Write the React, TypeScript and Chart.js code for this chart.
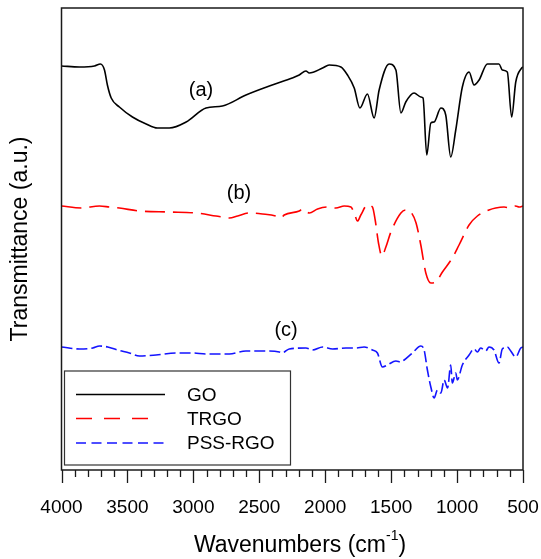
import React, { useEffect, useRef } from 'react';
import { Chart, registerables } from 'chart.js';

Chart.register(...registerables);

const FONT = '"Liberation Sans", Arial, sans-serif';

// GO spectrum (a)
const goWavenumbers = [4000, 3864, 3750, 3705, 3674, 3652, 3623, 3561, 3462, 3358, 3273, 3182, 3055, 2904, 2780, 2601, 2402, 2250, 2197, 2146, 2121, 2020, 1970, 1881, 1831, 1780, 1737, 1680, 1629, 1591, 1515, 1464, 1426, 1389, 1326, 1275, 1258, 1230, 1199, 1174, 1123, 1086, 1048, 1010, 960, 909, 871, 833, 770, 682, 657, 619, 586, 555, 510, 500];
const goValues = [402, 401, 402, 404, 398, 383, 370, 361, 351, 344, 340, 340, 346, 360, 362, 373, 383, 390, 393, 397, 395, 400, 403, 401, 393, 380, 360, 374, 350, 378, 404, 398, 355, 366, 375, 371, 370, 313, 345, 346, 360, 353, 311, 338, 381, 396, 383, 388, 404, 404, 398, 396, 351, 386, 400, 401];

// TRGO spectrum (b)
const trgoWavenumbers = [4000, 3851, 3712, 3636, 3561, 3409, 3182, 2980, 2828, 2727, 2664, 2576, 2475, 2373, 2336, 2311, 2197, 2172, 2121, 2058, 1983, 1919, 1856, 1805, 1780, 1755, 1730, 1680, 1642, 1621, 1596, 1570, 1540, 1502, 1426, 1389, 1351, 1311, 1275, 1237, 1199, 1161, 1111, 1036, 985, 909, 846, 758, 707, 644, 593, 555, 530, 500];
const trgoValues = [262, 260, 262, 261, 260, 257, 256, 255, 252, 250, 252, 255, 254, 252, 250, 253, 257, 259, 255, 259, 261, 260, 262, 261, 255, 247, 253, 263, 261, 248, 225, 212, 221, 236, 255, 258, 256, 245, 223, 195, 185, 186, 196, 210, 223, 243, 252, 258, 260, 261, 260, 262, 261, 262];

// PSS-RGO spectrum (c)
const pssWavenumbers = [4000, 3864, 3763, 3712, 3649, 3573, 3485, 3409, 3283, 3131, 3005, 2904, 2727, 2601, 2424, 2348, 2328, 2273, 2146, 2096, 2020, 1944, 1843, 1767, 1705, 1642, 1604, 1566, 1528, 1464, 1426, 1401, 1339, 1275, 1250, 1225, 1199, 1174, 1149, 1123, 1098, 1072, 1048, 1036, 1010, 998, 960, 909, 871, 846, 821, 783, 758, 720, 682, 657, 619, 593, 555, 517, 500];
const pssValues = [121, 119, 120, 122, 121, 118, 115, 112, 113, 115, 115, 114, 114, 117, 117, 116, 115, 119, 120, 118, 121, 119, 120, 120, 121, 118, 115, 101, 103, 107, 106, 108, 115, 122, 118, 98, 81, 70, 78, 75, 88, 80, 103, 85, 95, 88, 103, 113, 119, 116, 120, 117, 121, 118, 105, 119, 121, 117, 111, 120, 121];

const seriesLabels = ['GO', 'TRGO', 'PSS-RGO'];
const seriesColors = ['#000000', '#ff0000', '#1414ff'];
const seriesDashes: number[][] = [[], [20, 8], [11, 4]];
const legendDashes: number[][] = [[], [16, 12], [10, 5.5]];

const peakLabels = ['(a)', '(b)', '(c)'];
const peakLabelX = [2942, 2654, 2297];
const peakLabelY = [378, 275, 138];

const xMin = 500;
const xMax = 4000;
const xMajorStep = 500;
const xMinorStep = 100;
const yMin = -2;
const yMax = 460;

const xTitle = 'Wavenumbers (cm';
const xTitleSup = '-1';
const yTitle = 'Transmittance (a.u.)';

const toPoints = (xs: number[], ys: number[]) => xs.map((x, i) => ({ x, y: ys[i] }));

const decorPlugin = {
  id: 'decor',
  afterDraw(chart: any) {
    const { ctx, chartArea } = chart;
    const { left, right, top, bottom } = chartArea;
    const xs = chart.scales.x;
    const ys = chart.scales.y;
    ctx.save();

    // frame
    ctx.strokeStyle = '#1a1a1a';
    ctx.lineWidth = 1.5;
    ctx.setLineDash([]);
    ctx.strokeRect(left, top, right - left, bottom - top);

    // outward ticks on bottom axis
    ctx.lineWidth = 1.3;
    for (let v = xMin; v <= xMax; v += xMinorStep) {
      const px = Math.round(xs.getPixelForValue(v)) + 0.5;
      const len = v % xMajorStep === 0 ? 13 : 7;
      ctx.beginPath();
      ctx.moveTo(px, bottom);
      ctx.lineTo(px, bottom + len);
      ctx.stroke();
    }

    // peak labels
    ctx.fillStyle = '#000';
    ctx.font = `20px ${FONT}`;
    ctx.textAlign = 'center';
    ctx.textBaseline = 'middle';
    peakLabels.forEach((t, i) => {
      ctx.fillText(t, xs.getPixelForValue(peakLabelX[i]), ys.getPixelForValue(peakLabelY[i]));
    });

    // legend box
    const bx = left + 3;
    const by = 371;
    const bw = 226;
    const bh = 94;
    ctx.strokeStyle = '#333';
    ctx.lineWidth = 1.2;
    ctx.strokeRect(bx, by, bw, bh);
    const rowY = [394.5, 418.5, 443];
    const lineEnds = [165, 157, 165];
    ctx.font = `19px ${FONT}`;
    ctx.textAlign = 'left';
    seriesLabels.forEach((lab, i) => {
      ctx.strokeStyle = seriesColors[i];
      ctx.lineWidth = 1.6;
      ctx.setLineDash(legendDashes[i]);
      ctx.beginPath();
      ctx.moveTo(76, rowY[i]);
      ctx.lineTo(lineEnds[i], rowY[i]);
      ctx.stroke();
      ctx.setLineDash([]);
      ctx.fillStyle = '#000';
      ctx.fillText(lab, 187, rowY[i] + 1);
    });

    // x axis title with superscript
    ctx.font = `23px ${FONT}`;
    const w1 = ctx.measureText(xTitle).width;
    ctx.font = `14px ${FONT}`;
    const w2 = ctx.measureText(xTitleSup).width;
    ctx.font = `23px ${FONT}`;
    const w3 = ctx.measureText(')').width;
    const total = w1 + w2 + w3;
    const x0 = 300 - total / 2;
    const ty = 546;
    ctx.textAlign = 'left';
    ctx.textBaseline = 'middle';
    ctx.fillText(xTitle, x0, ty);
    ctx.font = `14px ${FONT}`;
    ctx.fillText(xTitleSup, x0 + w1, ty - 10);
    ctx.font = `23px ${FONT}`;
    ctx.fillText(')', x0 + w1 + w2, ty);

    ctx.restore();
  },
};

export default function App() {
  const canvasRef = useRef<HTMLCanvasElement | null>(null);

  useEffect(() => {
    if (!canvasRef.current) return;
    const chart = new Chart(canvasRef.current, {
      type: 'line',
      data: {
        datasets: [
          { label: seriesLabels[0], data: toPoints(goWavenumbers, goValues) },
          { label: seriesLabels[1], data: toPoints(trgoWavenumbers, trgoValues) },
          { label: seriesLabels[2], data: toPoints(pssWavenumbers, pssValues) },
        ].map((d, i) => ({
          ...d,
          borderColor: seriesColors[i],
          backgroundColor: seriesColors[i],
          borderDash: seriesDashes[i],
          borderWidth: 1.6,
          pointRadius: 0,
          fill: false,
          cubicInterpolationMode: 'monotone' as const,
        })),
      },
      options: {
        animation: false,
        responsive: false,
        maintainAspectRatio: false,
        layout: { padding: { top: 8, right: 18, left: 0, bottom: 0 } },
        plugins: { legend: { display: false }, tooltip: { enabled: false } },
        scales: {
          x: {
            type: 'linear',
            reverse: true,
            min: xMin,
            max: xMax,
            afterFit: (s: any) => { s.height = 89; s.paddingLeft = 0; s.paddingRight = 0; },
            grid: { display: false, drawTicks: false },
            border: { display: false },
            ticks: {
              stepSize: xMajorStep,
              padding: 26,
              color: '#000',
              font: { size: 19, family: FONT },
              maxRotation: 0,
              autoSkip: false,
              callback: (v: any) => String(v),
            },
          },
          y: {
            type: 'linear',
            min: yMin,
            max: yMax,
            afterFit: (s: any) => { s.width = 61.5; s.paddingTop = 0; s.paddingBottom = 0; },
            grid: { display: false, drawTicks: false },
            border: { display: false },
            ticks: { display: false },
            title: {
              display: true,
              text: yTitle,
              color: '#000',
              font: { size: 23, family: FONT },
              padding: { top: 7, bottom: 0 },
            },
          },
        },
      },
      plugins: [decorPlugin],
    });
    return () => chart.destroy();
  }, []);

  return (
    <div style={{ position: 'fixed', left: 0, top: 0, width: 541, height: 559, background: '#fff' }}>
      <canvas ref={canvasRef} width={541} height={559} style={{ display: 'block' }} />
    </div>
  );
}
